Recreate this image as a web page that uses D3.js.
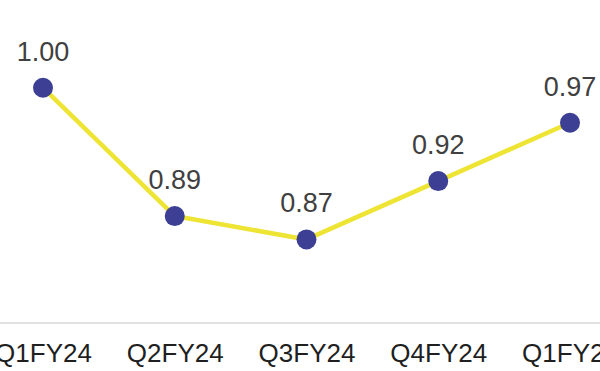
<!DOCTYPE html>
<html>
<head>
<meta charset="utf-8">
<script src="https://cdn.jsdelivr.net/npm/d3@7"></script>
<style>
  html, body { margin: 0; padding: 0; background: #fff; }
  svg { display: block; }
</style>
</head>
<body>
<svg id="chart" width="600" height="371"></svg>
<script>
// Quarterly ratio series
const quarters = ["Q1FY24", "Q2FY24", "Q3FY24", "Q4FY24", "Q1FY25"];
const ratios = [1.00, 0.89, 0.87, 0.92, 0.97];
const valueLabels = ["1.00", "0.89", "0.87", "0.92", "0.97"];

const svg = d3.select("#chart");
const W = 600, H = 371;
const axisY = 323;

const x = d3.scalePoint().domain(quarters).range([43, 570]);
const y = d3.scaleLinear().domain([0.93, 1.00]).range([169.4, 87.7]);

const points = quarters.map((q, i) => ({ q, v: ratios[i], label: valueLabels[i] }));

// baseline axis
svg.append("line")
  .attr("x1", 0).attr("x2", W)
  .attr("y1", axisY).attr("y2", axisY)
  .attr("stroke", "#d9d9d9").attr("stroke-width", 1.5);

// category labels
const xAxis = d3.axisBottom(x).tickSize(0).tickPadding(0);
const gx = svg.append("g").attr("transform", `translate(0,${axisY})`).call(xAxis);
gx.select(".domain").remove();
gx.selectAll("text")
  .attr("y", 39).attr("dy", null)
  .attr("font-family", "Liberation Sans, Arial, sans-serif")
  .attr("font-size", 26)
  .attr("fill", "#1f1f1f");

// line
const line = d3.line().x(d => x(d.q)).y(d => y(d.v));
svg.append("path")
  .datum(points)
  .attr("d", line)
  .attr("fill", "none")
  .attr("stroke", "#ede433")
  .attr("stroke-width", 4.5)
  .attr("stroke-linejoin", "round");

// markers
svg.selectAll("circle.pt").data(points).join("circle")
  .attr("class", "pt")
  .attr("cx", d => x(d.q)).attr("cy", d => y(d.v))
  .attr("r", 10)
  .attr("fill", "#3d3f95");

// value labels
svg.selectAll("text.val").data(points).join("text")
  .attr("class", "val")
  .attr("x", d => x(d.q)).attr("y", d => y(d.v) - 27)
  .attr("text-anchor", "middle")
  .attr("font-family", "Liberation Sans, Arial, sans-serif")
  .attr("font-size", 27)
  .attr("fill", "#404040")
  .text(d => d.label);
</script>
</body>
</html>
